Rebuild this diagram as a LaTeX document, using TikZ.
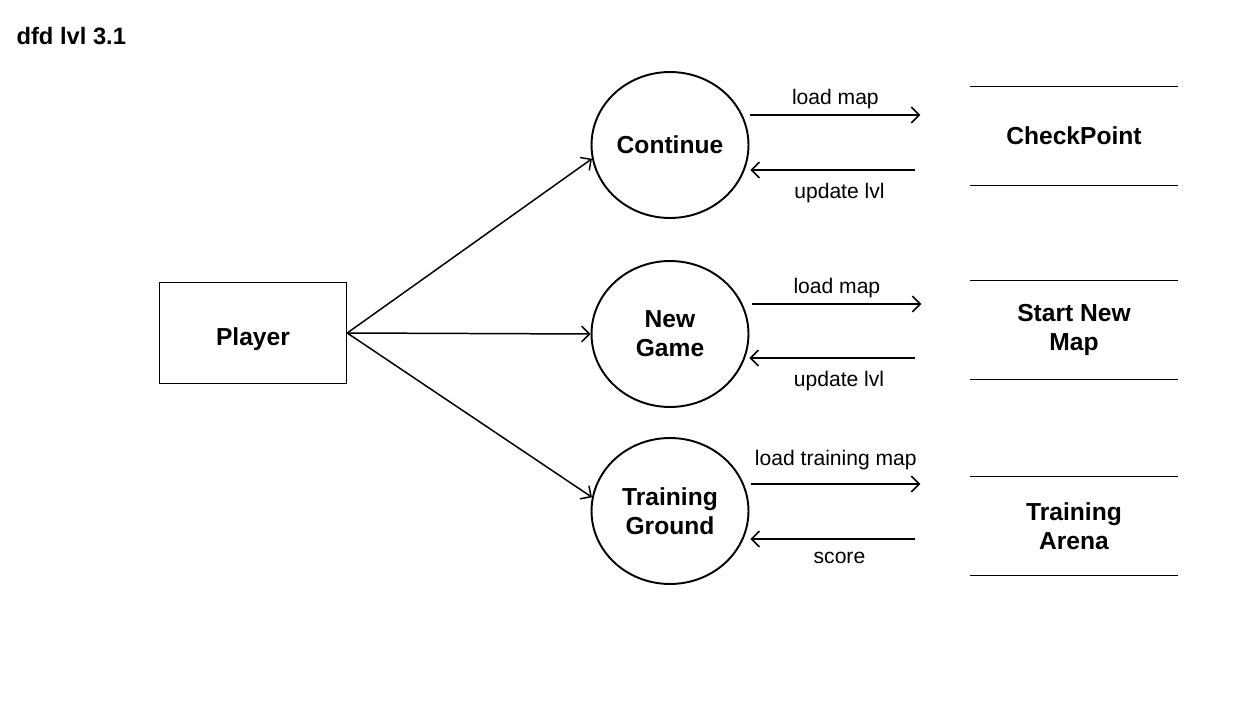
\documentclass[tikz,border=0pt]{standalone}
\usepackage{fontspec}
\setmainfont{Liberation Sans}
\usetikzlibrary{arrows.meta,shapes.geometric}

\begin{document}
\begin{tikzpicture}[x=0.02cm,y=-0.02cm,line width=0.85pt,>={Straight Barb[length=4.5pt,width=9pt]}]
    \tikzstyle{flow}=[->]
    \tikzstyle{process}=[ellipse,draw,line width=1.1pt,minimum width=3.14cm,minimum height=2.92cm,inner sep=0pt,align=center,font=\fontsize{14}{16.5}\selectfont\bfseries]
    \tikzstyle{entity}=[rectangle,draw,minimum width=3.74cm,minimum height=2.02cm,font=\fontsize{14}{16.5}\selectfont\bfseries]
    \tikzstyle{store}=[minimum width=4.12cm,minimum height=1.96cm,align=center,font=\fontsize{14}{16.5}\selectfont\bfseries]
    \tikzstyle{annot}=[font=\fontsize{12}{14}\selectfont]

    \useasboundingbox (0,0) rectangle (1245,706);

    \node[anchor=west,font=\fontsize{13.5}{16}\selectfont\bfseries] (title) at (10,36) {dfd lvl 3.1};

    % external entity and processes
    \node[entity,text height=17pt,text depth=3pt] (P) at (253,333) {Player};
    \node[process] (C) at (670,145) {Continue};
    \node[process] (N) at (670,334) {New\\Game};
    \node[process] (T) at (670,511) {Training\\Ground};

    % data stores
    \node[store,text depth=0pt] (S-1) at (1074,136) {CheckPoint};
    \node[store] (S-2) at (1074,330) {Start New\\Map};
    \node[store] (S-3) at (1074,526) {Training\\Arena};
    \draw[line width=0.6pt] (S-1.north west) -- (S-1.north east);
    \draw[line width=0.6pt] (S-1.south west) -- (S-1.south east);
    \draw[line width=0.6pt] (S-2.north west) -- (S-2.north east);
    \draw[line width=0.6pt] (S-2.south west) -- (S-2.south east);
    \draw[line width=0.6pt] (S-3.north west) -- (S-3.north east);
    \draw[line width=0.6pt] (S-3.south west) -- (S-3.south east);

    \path (P.east) edge[flow] (C.190);
    \path (P.east) edge[flow] (N.west);
    \path (P.east) edge[flow] (T.170);

    % flows to and from the stores
    \path ([shift={(1,-30)}]C.east) edge[flow] node[annot,above] {load map} ([shift={(-50,-21)}]S-1.west);
    \path ([shift={(-55,34)}]S-1.west) edge[flow] node[annot,below=4pt,pos=0.46] {update lvl} ([shift={(1,25)}]C.east);
    \path ([shift={(3,-30)}]N.east) edge[flow] node[annot,above] {load map} ([shift={(-49,-26)}]S-2.west);
    \path ([shift={(-55,28)}]S-2.west) edge[flow] node[annot,below=4pt,pos=0.46] {update lvl} ([shift={(0,24)}]N.east);
    \path ([shift={(2,-27)}]T.east) edge[flow] node[annot,above=4pt] {load training map} ([shift={(-50,-42)}]S-3.west);
    \path ([shift={(-55,13)}]S-3.west) edge[flow] node[annot,below=4pt,pos=0.46] {score} ([shift={(1,28)}]T.east);
\end{tikzpicture}
\end{document}
